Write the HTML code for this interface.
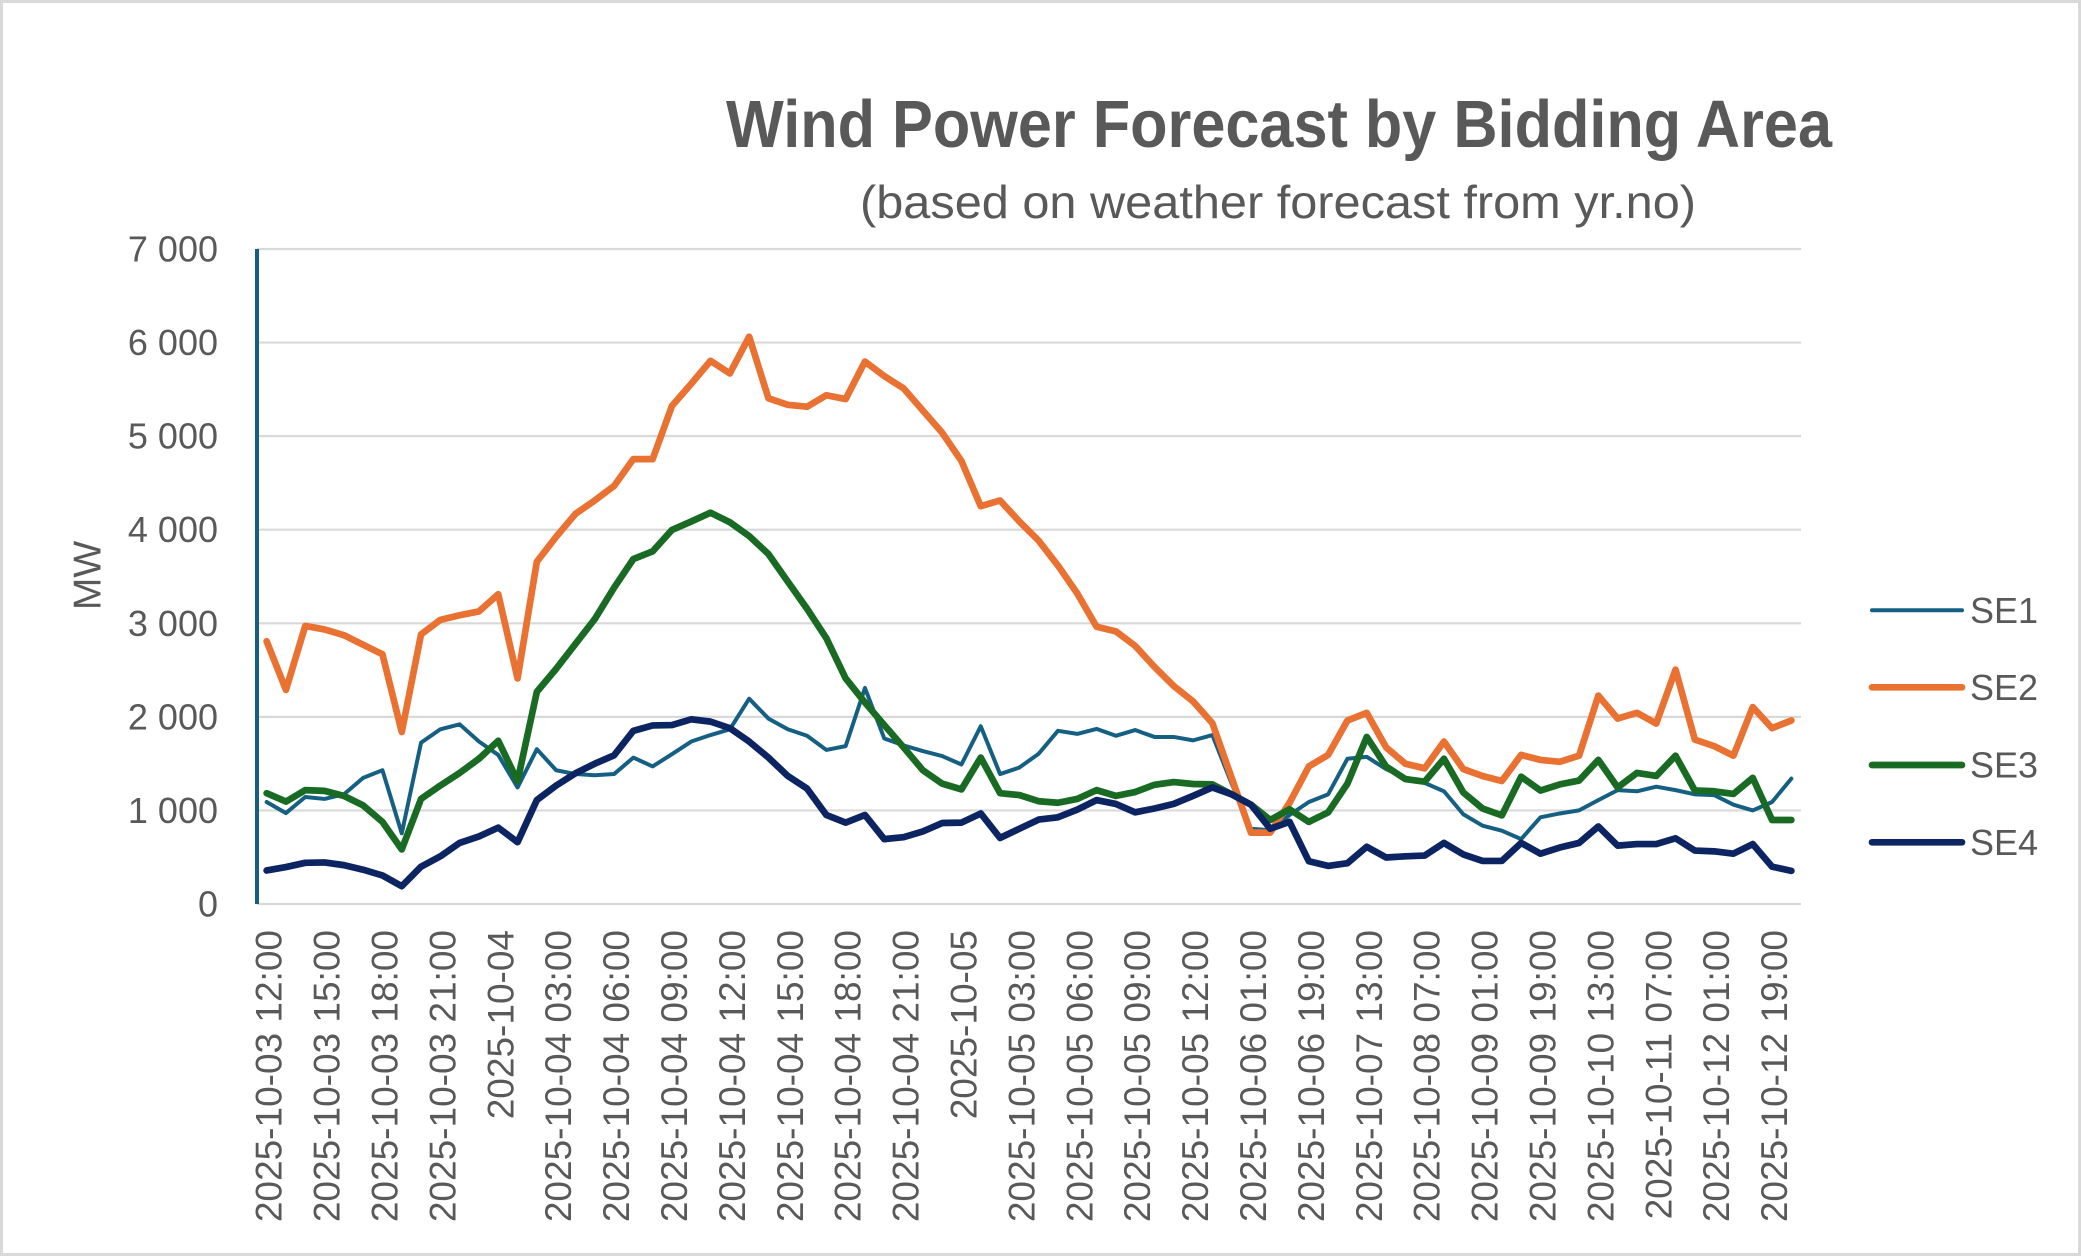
<!DOCTYPE html>
<html>
<head>
<meta charset="utf-8">
<style>
html,body{margin:0;padding:0;background:#fff;}
svg{display:block;}
</style>
</head>
<body>
<svg width="2081" height="1256" viewBox="0 0 2081 1256" xmlns="http://www.w3.org/2000/svg" font-family="'Liberation Sans', Arial, sans-serif">
<rect x="0" y="0" width="2081" height="1256" fill="#ffffff"/>
<rect x="1.5" y="1.5" width="2078" height="1253" fill="none" stroke="#D9D9D9" stroke-width="3"/>

<!-- Title -->
<text x="1279" y="147" text-anchor="middle" font-weight="bold" font-size="67" fill="#595959" textLength="1106" lengthAdjust="spacingAndGlyphs">Wind Power Forecast by Bidding Area</text>
<text x="1278" y="218" text-anchor="middle" font-size="46" fill="#595959" textLength="836" lengthAdjust="spacingAndGlyphs">(based on weather forecast from yr.no)</text>

<!-- Gridlines -->
<g stroke="#D9D9D9" stroke-width="2.2">
<line x1="257" y1="249" x2="1801" y2="249"/>
<line x1="257" y1="342.57" x2="1801" y2="342.57"/>
<line x1="257" y1="436.14" x2="1801" y2="436.14"/>
<line x1="257" y1="529.71" x2="1801" y2="529.71"/>
<line x1="257" y1="623.29" x2="1801" y2="623.29"/>
<line x1="257" y1="716.86" x2="1801" y2="716.86"/>
<line x1="257" y1="810.43" x2="1801" y2="810.43"/>
<line x1="257" y1="904" x2="1801" y2="904"/>
</g>

<!-- Y axis line -->
<line x1="257" y1="249" x2="257" y2="904" stroke="#156082" stroke-width="4"/>

<!-- Y tick labels -->
<g font-size="36" fill="#595959" text-anchor="end">
<text x="218" y="261.5">7 000</text>
<text x="218" y="355.1">6 000</text>
<text x="218" y="448.6">5 000</text>
<text x="218" y="542.2">4 000</text>
<text x="218" y="635.8">3 000</text>
<text x="218" y="729.4">2 000</text>
<text x="218" y="822.9">1 000</text>
<text x="218" y="916.5">0</text>
</g>

<!-- Y axis title -->
<text transform="translate(100.5,575.5) rotate(-90)" text-anchor="middle" font-size="39" fill="#595959">MW</text>

<!-- X tick labels -->
<g font-size="37" fill="#595959" text-anchor="end">
<text transform="translate(281.65,930) rotate(-90)">2025-10-03 12:00</text>
<text transform="translate(339.55,930) rotate(-90)">2025-10-03 15:00</text>
<text transform="translate(397.45,930) rotate(-90)">2025-10-03 18:00</text>
<text transform="translate(455.35,930) rotate(-90)">2025-10-03 21:00</text>
<text transform="translate(513.25,930) rotate(-90)">2025-10-04</text>
<text transform="translate(571.15,930) rotate(-90)">2025-10-04 03:00</text>
<text transform="translate(629.05,930) rotate(-90)">2025-10-04 06:00</text>
<text transform="translate(686.95,930) rotate(-90)">2025-10-04 09:00</text>
<text transform="translate(744.85,930) rotate(-90)">2025-10-04 12:00</text>
<text transform="translate(802.75,930) rotate(-90)">2025-10-04 15:00</text>
<text transform="translate(860.65,930) rotate(-90)">2025-10-04 18:00</text>
<text transform="translate(918.55,930) rotate(-90)">2025-10-04 21:00</text>
<text transform="translate(976.45,930) rotate(-90)">2025-10-05</text>
<text transform="translate(1034.35,930) rotate(-90)">2025-10-05 03:00</text>
<text transform="translate(1092.25,930) rotate(-90)">2025-10-05 06:00</text>
<text transform="translate(1150.15,930) rotate(-90)">2025-10-05 09:00</text>
<text transform="translate(1208.05,930) rotate(-90)">2025-10-05 12:00</text>
<text transform="translate(1265.95,930) rotate(-90)">2025-10-06 01:00</text>
<text transform="translate(1323.85,930) rotate(-90)">2025-10-06 19:00</text>
<text transform="translate(1381.75,930) rotate(-90)">2025-10-07 13:00</text>
<text transform="translate(1439.65,930) rotate(-90)">2025-10-08 07:00</text>
<text transform="translate(1497.55,930) rotate(-90)">2025-10-09 01:00</text>
<text transform="translate(1555.45,930) rotate(-90)">2025-10-09 19:00</text>
<text transform="translate(1613.35,930) rotate(-90)">2025-10-10 13:00</text>
<text transform="translate(1671.25,930) rotate(-90)">2025-10-11 07:00</text>
<text transform="translate(1729.15,930) rotate(-90)">2025-10-12 01:00</text>
<text transform="translate(1787.05,930) rotate(-90)">2025-10-12 19:00</text>
</g>

<!-- Series -->
<g transform="translate(266.65,290) scale(19.3,0.382653)" fill="none" stroke-linejoin="round" stroke-linecap="round">
<polyline vector-effect="non-scaling-stroke" stroke="#156082" stroke-width="4" points="0,1338 1,1367 2,1325 3,1330 4,1318 5,1275 6,1255 7,1420 8,1183 9,1148 10,1135 11,1180 12,1215 13,1300 14,1200 15,1255 16,1265 17,1268 18,1265 19,1222 20,1245 21,1213 22,1180 23,1163 24,1148 25,1068 26,1120 27,1148 28,1165 29,1202 30,1192 31,1040 32,1172 33,1190 34,1205 35,1218 36,1240 37,1140 38,1265 39,1248 40,1212 41,1152 42,1160 43,1147 44,1165 45,1150 46,1168 47,1168 48,1177 49,1163 50,1290 51,1408 52,1412 53,1372 54,1338 55,1318 56,1225 57,1220 58,1252 59,1275 60,1288 61,1310 62,1370 63,1400 64,1413 65,1435 66,1378 67,1368 68,1360 69,1333 70,1307 71,1310 72,1298 73,1307 74,1318 75,1320 76,1345 77,1360 78,1338 79,1277"/>
<polyline vector-effect="non-scaling-stroke" stroke="#E97132" stroke-width="6.7" points="0,918 1,1045 2,878 3,887 4,902 5,927 6,952 7,1155 8,900 9,862 10,850 11,840 12,795 13,1015 14,710 15,645 16,585 17,550 18,512 19,442 20,442 21,303 22,245 23,185 24,218 25,122 26,283 27,300 28,305 29,275 30,285 31,187 32,225 33,257 34,315 35,373 36,447 37,565 38,550 39,605 40,655 41,720 42,793 43,880 44,892 45,930 46,985 47,1035 48,1075 49,1132 50,1275 51,1418 52,1418 53,1340 54,1245 55,1215 56,1125 57,1105 58,1195 59,1238 60,1250 61,1180 62,1252 63,1270 64,1283 65,1215 66,1228 67,1233 68,1217 69,1060 70,1120 71,1105 72,1133 73,992 74,1175 75,1192 76,1217 77,1090 78,1145 79,1125"/>
<polyline vector-effect="non-scaling-stroke" stroke="#196B24" stroke-width="6.7" points="0,1315 1,1337 2,1307 3,1309 4,1322 5,1347 6,1390 7,1462 8,1330 9,1295 10,1262 11,1225 12,1178 13,1283 14,1050 15,990 16,925 17,860 18,778 19,703 20,683 21,627 22,605 23,582 24,607 25,643 26,690 27,762 28,833 29,910 30,1015 31,1078 32,1137 33,1195 34,1255 35,1290 36,1305 37,1222 38,1315 39,1320 40,1336 41,1340 42,1330 43,1307 44,1322 45,1312 46,1293 47,1286 48,1291 49,1292 50,1318 51,1345 52,1385 53,1357 54,1390 55,1365 56,1290 57,1168 58,1245 59,1278 60,1285 61,1225 62,1313 63,1355 64,1373 65,1272 66,1308 67,1292 68,1282 69,1228 70,1300 71,1262 72,1270 73,1217 74,1308 75,1310 76,1317 77,1275 78,1385 79,1385"/>
<polyline vector-effect="non-scaling-stroke" stroke="#0C2461" stroke-width="6.7" points="0,1517 1,1508 2,1497 3,1496 4,1503 5,1515 6,1530 7,1558 8,1507 9,1480 10,1445 11,1428 12,1405 13,1443 14,1333 15,1295 16,1263 17,1238 18,1216 19,1152 20,1138 21,1137 22,1122 23,1128 24,1145 25,1180 26,1222 27,1270 28,1303 29,1372 30,1392 31,1372 32,1435 33,1430 34,1415 35,1393 36,1392 37,1368 38,1432 39,1408 40,1384 41,1378 42,1358 43,1333 44,1343 45,1365 46,1355 47,1343 48,1322 49,1300 50,1318 51,1345 52,1408 53,1390 54,1493 55,1505 56,1498 57,1455 58,1483 59,1480 60,1478 61,1445 62,1475 63,1492 64,1492 65,1445 66,1473 67,1457 68,1445 69,1402 70,1452 71,1448 72,1448 73,1433 74,1465 75,1467 76,1473 77,1448 78,1507 79,1518"/>
</g>

<!-- Legend -->
<g stroke-linecap="round">
<line x1="1872" y1="610.3" x2="1962" y2="610.3" stroke="#156082" stroke-width="4"/>
<line x1="1872" y1="687.3" x2="1962" y2="687.3" stroke="#E97132" stroke-width="6.7"/>
<line x1="1872" y1="765" x2="1962" y2="765" stroke="#196B24" stroke-width="6.7"/>
<line x1="1872" y1="842.3" x2="1962" y2="842.3" stroke="#0C2461" stroke-width="6.7"/>
</g>
<g font-size="36" fill="#595959">
<text x="1970" y="623">SE1</text>
<text x="1970" y="700">SE2</text>
<text x="1970" y="777.7">SE3</text>
<text x="1970" y="855">SE4</text>
</g>
</svg>
</body>
</html>
